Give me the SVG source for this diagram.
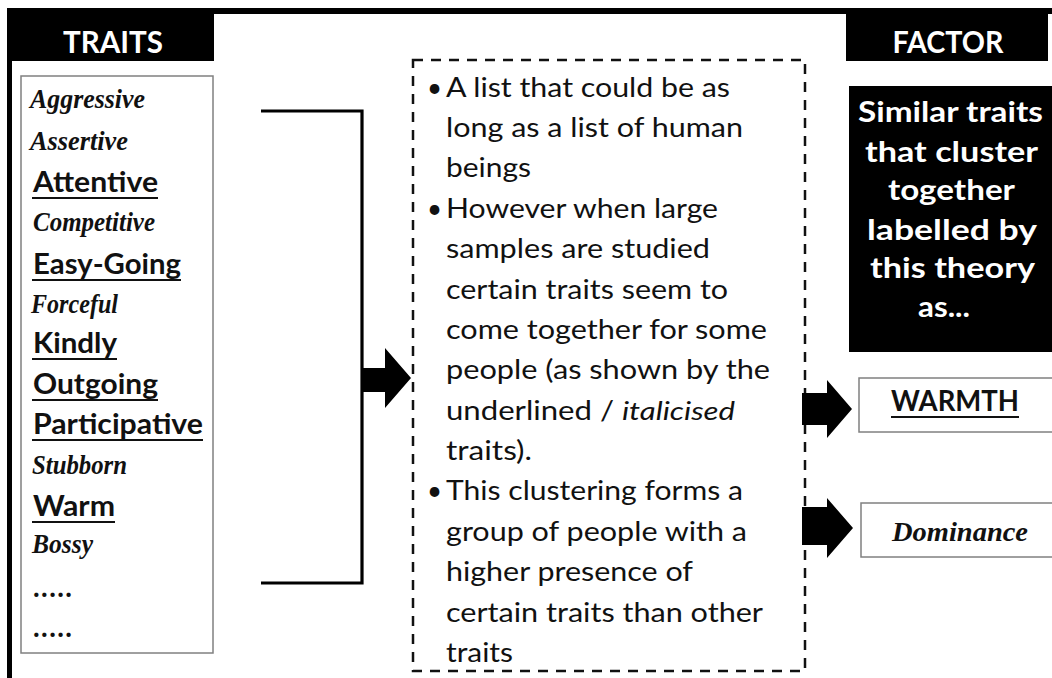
<svg xmlns="http://www.w3.org/2000/svg" width="1052" height="678" viewBox="0 0 1052 678">
<style>
.hdr{font-family:Lato,"Open Sans",sans-serif;font-weight:700;fill:#fff}
.bold{font-family:Lato,"Open Sans",sans-serif;font-weight:700;font-size:28px;fill:#111}
.script{font-family:"Liberation Serif",serif;font-style:italic;font-weight:700;font-size:28px;fill:#111}
.body{font-family:Lato,"Open Sans",sans-serif;font-size:26px;fill:#111}
.ul{stroke:#111;stroke-width:2.2}
.box{fill:#fff;stroke:#808080;stroke-width:1.5}
.conn{fill:none;stroke:#000;stroke-width:3.2}
.head{fill:#000}
.dot{fill:#111}
</style>
<rect width="1052" height="678" fill="#fff"/>
<g id="frame">
<rect x="7" y="8" width="1045" height="6" fill="#000"/>
<rect x="7" y="8" width="5" height="670" fill="#000"/>
</g>
<g id="traits-header">
<rect x="7" y="8" width="207" height="53" fill="#000"/>
<text class="hdr" x="113" y="53" font-size="30" text-anchor="middle" textLength="100" lengthAdjust="spacingAndGlyphs">TRAITS</text>
</g>
<g id="traits-list">
<rect class="box" x="21" y="76" width="192" height="577"/>
<text class="script" x="30" y="108" textLength="115" lengthAdjust="spacingAndGlyphs">Aggressive</text>
<text class="script" x="30" y="150" textLength="98" lengthAdjust="spacingAndGlyphs">Assertive</text>
<text class="bold" x="33" y="192" textLength="125" lengthAdjust="spacingAndGlyphs">Attentive</text>
<line class="ul" x1="32" y1="198" x2="158" y2="198"/>
<text class="script" x="33" y="231" textLength="122" lengthAdjust="spacingAndGlyphs">Competitive</text>
<text class="bold" x="33" y="274" textLength="148" lengthAdjust="spacingAndGlyphs">Easy-Going</text>
<line class="ul" x1="32" y1="280" x2="181" y2="280"/>
<text class="script" x="31" y="313" textLength="87" lengthAdjust="spacingAndGlyphs">Forceful</text>
<text class="bold" x="33" y="353" textLength="84" lengthAdjust="spacingAndGlyphs">Kindly</text>
<line class="ul" x1="32" y1="359" x2="117" y2="359"/>
<text class="bold" x="33" y="394" textLength="125" lengthAdjust="spacingAndGlyphs">Outgoing</text>
<line class="ul" x1="32" y1="400" x2="158" y2="400"/>
<text class="bold" x="33" y="434" textLength="170" lengthAdjust="spacingAndGlyphs">Participative</text>
<line class="ul" x1="32" y1="440" x2="203" y2="440"/>
<text class="script" x="32" y="474" textLength="95" lengthAdjust="spacingAndGlyphs">Stubborn</text>
<text class="bold" x="33" y="516" textLength="82" lengthAdjust="spacingAndGlyphs">Warm</text>
<line class="ul" x1="32" y1="522" x2="115" y2="522"/>
<text class="script" x="32" y="553" textLength="61" lengthAdjust="spacingAndGlyphs">Bossy</text>
<text class="bold" x="33" y="597" font-size="26" textLength="39" lengthAdjust="spacing">.....</text>
<text class="bold" x="33" y="637" font-size="26" textLength="39" lengthAdjust="spacing">.....</text>
</g>
<g id="explanation">
<rect x="413" y="60" width="392" height="611" fill="none" stroke="#111" stroke-width="2.5" stroke-dasharray="10 8"/>
<text class="body" x="427" y="97" font-size="20">•</text>
<text class="body" x="427" y="218" font-size="20">•</text>
<text class="body" x="427" y="500" font-size="20">•</text>
<text class="body" x="446" y="97" textLength="284" lengthAdjust="spacingAndGlyphs">A list that could be as</text>
<text class="body" x="446" y="137" textLength="297" lengthAdjust="spacingAndGlyphs">long as a list of human</text>
<text class="body" x="446" y="177" textLength="85" lengthAdjust="spacingAndGlyphs">beings</text>
<text class="body" x="446" y="218" textLength="272" lengthAdjust="spacingAndGlyphs">However when large</text>
<text class="body" x="446" y="258" textLength="264" lengthAdjust="spacingAndGlyphs">samples are studied</text>
<text class="body" x="446" y="299" textLength="282" lengthAdjust="spacingAndGlyphs">certain traits seem to</text>
<text class="body" x="446" y="339" textLength="321" lengthAdjust="spacingAndGlyphs">come together for some</text>
<text class="body" x="446" y="379" textLength="324" lengthAdjust="spacingAndGlyphs">people (as shown by the</text>
<text class="body" x="446" y="420" textLength="289" lengthAdjust="spacingAndGlyphs">underlined / <tspan font-style="italic">italicised</tspan></text>
<text class="body" x="446" y="460" textLength="86" lengthAdjust="spacingAndGlyphs">traits).</text>
<text class="body" x="446" y="500" textLength="297" lengthAdjust="spacingAndGlyphs">This clustering forms a</text>
<text class="body" x="446" y="541" textLength="301" lengthAdjust="spacingAndGlyphs">group of people with a</text>
<text class="body" x="446" y="581" textLength="247" lengthAdjust="spacingAndGlyphs">higher presence of</text>
<text class="body" x="446" y="622" textLength="317" lengthAdjust="spacingAndGlyphs">certain traits than other</text>
<text class="body" x="446" y="662" textLength="67" lengthAdjust="spacingAndGlyphs">traits</text>
</g>
<g id="factor-header">
<rect x="846" y="14" width="202" height="47" fill="#000"/>
<text class="hdr" x="948" y="53" font-size="30" text-anchor="middle" textLength="111" lengthAdjust="spacingAndGlyphs">FACTOR</text>
</g>
<g id="factor-desc">
<rect x="849" y="86" width="203" height="266" fill="#000"/>
<text class="hdr" font-size="29" x="858" y="122" textLength="185" lengthAdjust="spacingAndGlyphs">Similar traits</text>
<text class="hdr" font-size="29" x="865" y="162" textLength="173" lengthAdjust="spacingAndGlyphs">that cluster</text>
<text class="hdr" font-size="29" x="888" y="200" textLength="127" lengthAdjust="spacingAndGlyphs">together</text>
<text class="hdr" font-size="29" x="867" y="240" textLength="170" lengthAdjust="spacingAndGlyphs">labelled by</text>
<text class="hdr" font-size="29" x="870" y="278" textLength="165" lengthAdjust="spacingAndGlyphs">this theory</text>
<text class="hdr" font-size="29" x="918" y="317" textLength="52" lengthAdjust="spacingAndGlyphs">as...</text>
</g>
<g id="warmth">
<rect class="box" x="859" y="378" width="200" height="54"/>
<text class="bold" x="955" y="411" font-size="26" text-anchor="middle" textLength="128" lengthAdjust="spacingAndGlyphs">WARMTH</text>
<line class="ul" x1="891" y1="417" x2="1019" y2="417"/>
</g>
<g id="dominance">
<rect class="box" x="861" y="503" width="200" height="54"/>
<text class="script" x="892" y="541" font-size="30" textLength="136" lengthAdjust="spacingAndGlyphs">Dominance</text>
</g>
<g id="connectors">
<polyline class="conn" points="261,111 362,111 362,583 261,583"/>
<polygon class="head" points="362,368 385,368 385,348 411,378 385,408 385,392 362,392"/>
<polygon class="head" points="802,393 827,393 827,380 852,409 827,438 827,425 802,425"/>
<polygon class="head" points="802,507 827,507 827,498 853,528 827,558 827,545 802,545"/>
</g>
</svg>
